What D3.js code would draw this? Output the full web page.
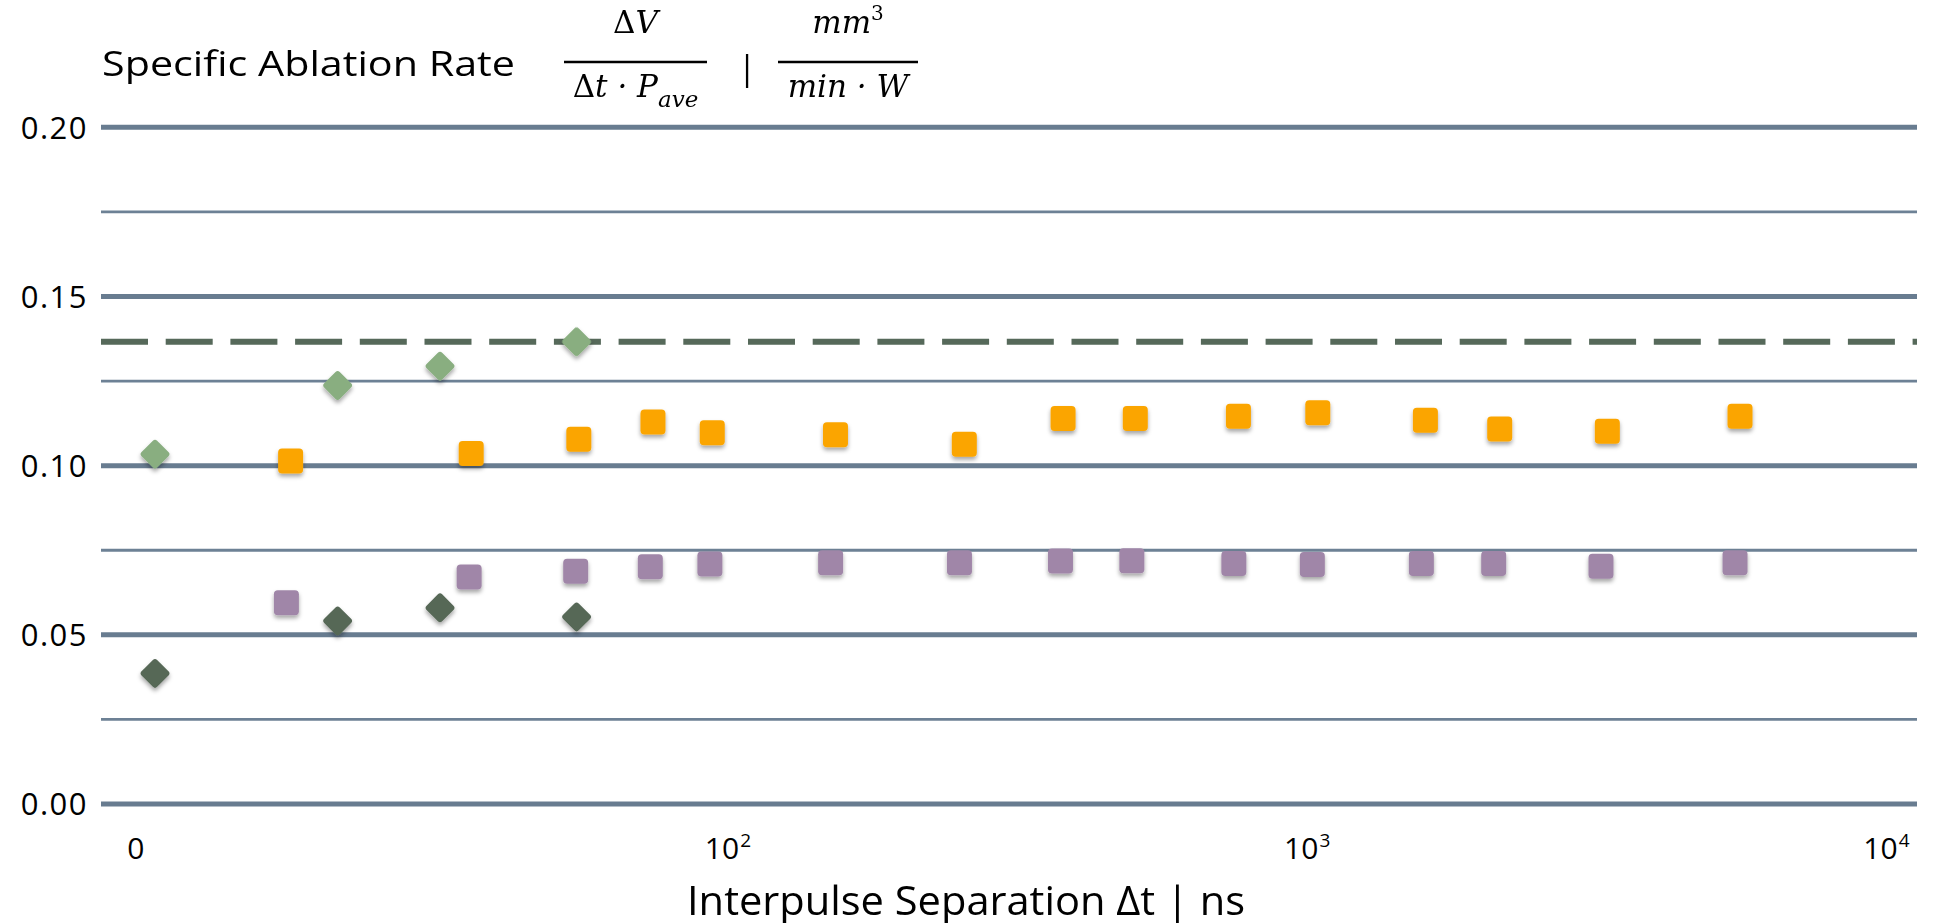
<!DOCTYPE html>
<html>
<head>
<meta charset="utf-8">
<script src="https://cdn.jsdelivr.net/npm/d3@7/dist/d3.min.js"></script>
<style>
  html, body { margin: 0; padding: 0; background: #ffffff; overflow: hidden; }
  svg { display: block; }
</style>
</head>
<body>
<svg id="chart" width="1933" height="923"></svg>
<script>
// Burst-mode measurements (diamonds): interpulse separation in ns
const burstSeparation = [10.5, 21.7, 32.6, 56.1];
const burstRateHigh   = [0.1034, 0.1237, 0.1294, 0.1366];
const burstRateLow    = [0.0386, 0.0541, 0.0580, 0.0553];

// Repetition-rate scans (squares)
const separationOrange = [18.0, 36.9, 56.6, 76.0, 96.2, 157, 262, 388, 517, 779, 1068, 1638, 2201, 3376, 5721];
const rateOrange       = [0.1014, 0.1036, 0.1078, 0.1129, 0.1097, 0.1091, 0.1063, 0.1139, 0.1139, 0.1146, 0.1156, 0.1134, 0.1108, 0.1102, 0.1146];

const separationPurple = [17.7, 36.6, 55.9, 75.2, 95.3, 154, 257, 384, 510, 765, 1045, 1612, 2149, 3292, 5609];
const ratePurple       = [0.0595, 0.0671, 0.0688, 0.0701, 0.0709, 0.0713, 0.0713, 0.0718, 0.0719, 0.0711, 0.0708, 0.0711, 0.0711, 0.0703, 0.0713];

// Reference level (dashed line)
const referenceRate = 0.1366;

// Axis ticks
const yMajorTicks = [0, 0.05, 0.10, 0.15, 0.20];
const yMinorTicks = [0.025, 0.075, 0.125, 0.175];
const xTicks = [10, 100, 1000, 10000];
const xTickBase = ["0", "10", "10", "10"];
const xTickExp  = ["", "2", "3", "4"];

const svg = d3.select("#chart");
const sans = "'Open Sans', 'Noto Sans', sans-serif";
const serif = "'DejaVu Serif', 'Liberation Serif', serif";

const x = d3.scaleLog().domain([10, 10000]).range([142.75, 1880.5]);
const y = d3.scaleLinear().domain([0, 0.2]).range([804, 127.3]);
const gridLeft = 101, gridRight = 1917;

// Marker drop shadow
const defs = svg.append("defs");
const shadow = defs.append("filter").attr("id", "shadow")
  .attr("x", "-50%").attr("y", "-50%").attr("width", "200%").attr("height", "200%");
shadow.append("feDropShadow")
  .attr("dx", 0).attr("dy", 3).attr("stdDeviation", 2)
  .attr("flood-color", "#000").attr("flood-opacity", 0.35);

// Horizontal grid
const grid = svg.append("g");
grid.selectAll("line.major").data(yMajorTicks).join("line")
  .attr("class", "major")
  .attr("x1", gridLeft).attr("x2", gridRight)
  .attr("y1", d => y(d)).attr("y2", d => y(d))
  .attr("stroke", "#687c90").attr("stroke-width", 5);
grid.selectAll("line.minor").data(yMinorTicks).join("line")
  .attr("class", "minor")
  .attr("x1", gridLeft).attr("x2", gridRight)
  .attr("y1", d => y(d)).attr("y2", d => y(d))
  .attr("stroke", "#6d8195").attr("stroke-width", 2.8);

// Y axis labels
const yAxis = d3.axisLeft(y).tickValues(yMajorTicks).tickFormat(d3.format(".2f")).tickSize(0).tickPadding(0);
const yG = svg.append("g").attr("transform", "translate(88,0)").call(yAxis);
yG.select(".domain").remove();
yG.selectAll("text")
  .attr("font-family", sans).attr("font-size", 31).attr("fill", "#000")
  .attr("letter-spacing", 1.5).attr("dy", "0.35em");

// X axis labels (base centred on tick, exponent as superscript)
const xG = svg.append("g");
const xLab = xG.selectAll("g").data(xTicks).join("g")
  .attr("transform", d => `translate(${x(d)},859)`);
xLab.append("text")
  .attr("text-anchor", "middle")
  .attr("dx", (d, i) => xTickExp[i] ? 0 : -7)
  .attr("font-family", sans).attr("font-size", 30).attr("fill", "#000")
  .text((d, i) => xTickBase[i]);
xLab.each(function(d, i) {
  if (!xTickExp[i]) return;
  const g = d3.select(this);
  const w = g.select("text").node().getComputedTextLength();
  g.append("text")
    .attr("x", w / 2 + 1).attr("y", -12)
    .attr("font-family", sans).attr("font-size", 19).attr("fill", "#000")
    .text(xTickExp[i]);
});

// Dashed reference level
svg.append("line")
  .attr("x1", gridLeft).attr("x2", gridRight)
  .attr("y1", y(referenceRate)).attr("y2", y(referenceRate))
  .attr("stroke", "#56695a").attr("stroke-width", 6)
  .attr("stroke-dasharray", "47,17.7");

// Square markers
function squares(xs, ys, color) {
  const s = 25;
  svg.append("g").attr("filter", "url(#shadow)")
    .selectAll("rect").data(xs.map((v, i) => [v, ys[i]])).join("rect")
    .attr("x", d => x(d[0]) - s / 2).attr("y", d => y(d[1]) - s / 2)
    .attr("width", s).attr("height", s).attr("rx", 4)
    .attr("fill", color);
}
// Diamond markers
function diamonds(xs, ys, color) {
  const s = 22;
  svg.append("g").attr("filter", "url(#shadow)")
    .selectAll("rect").data(xs.map((v, i) => [v, ys[i]])).join("rect")
    .attr("x", -s / 2).attr("y", -s / 2)
    .attr("width", s).attr("height", s).attr("rx", 3)
    .attr("transform", d => `translate(${x(d[0])},${y(d[1])}) rotate(45)`)
    .attr("fill", color);
}
squares(separationPurple, ratePurple, "#a086a8");
squares(separationOrange, rateOrange, "#fba501");
diamonds(burstSeparation, burstRateLow, "#566756");
diamonds(burstSeparation, burstRateHigh, "#89ae80");

// Y axis title with formula
const title = svg.append("g");
title.append("text")
  .attr("x", 102).attr("y", 76)
  .attr("font-family", sans).attr("font-size", 34).attr("fill", "#000")
  .attr("textLength", 413).attr("lengthAdjust", "spacingAndGlyphs")
  .text("Specific Ablation Rate");

function fraction(cx, x1, x2, num, den) {
  const t = title.append("g");
  const n = t.append("text").attr("x", cx).attr("y", 33).attr("text-anchor", "middle")
    .attr("font-family", serif).attr("font-style", "italic").attr("font-size", 31).attr("fill", "#000");
  num(n);
  t.append("line").attr("x1", x1).attr("x2", x2).attr("y1", 62).attr("y2", 62)
    .attr("stroke", "#000").attr("stroke-width", 2.7);
  const d = t.append("text").attr("x", cx).attr("y", 97).attr("text-anchor", "middle")
    .attr("font-family", serif).attr("font-style", "italic").attr("font-size", 31).attr("fill", "#000");
  den(d);
}
fraction(635.5, 564, 707,
  n => { n.append("tspan").attr("font-style", "normal").text("Δ"); n.append("tspan").text("V"); },
  d => {
    d.append("tspan").attr("font-style", "normal").text("Δ");
    d.append("tspan").text("t · P");
    d.append("tspan").attr("font-size", 23).attr("dy", 10).text("ave");
  });
title.append("text")
  .attr("x", 747).attr("y", 80).attr("text-anchor", "middle")
  .attr("font-family", sans).attr("font-size", 34).attr("fill", "#000")
  .text("|");
fraction(848, 778, 918,
  n => { n.append("tspan").text("mm"); n.append("tspan").attr("font-style", "normal").attr("font-size", 20).attr("dy", -13).text("3"); },
  d => { d.append("tspan").text("min · W"); });

// X axis title
svg.append("text")
  .attr("x", 966).attr("y", 915).attr("text-anchor", "middle")
  .attr("font-family", sans).attr("font-size", 40).attr("fill", "#000")
  .attr("textLength", 558).attr("lengthAdjust", "spacingAndGlyphs")
  .text("Interpulse Separation Δt | ns");
</script>
</body>
</html>
